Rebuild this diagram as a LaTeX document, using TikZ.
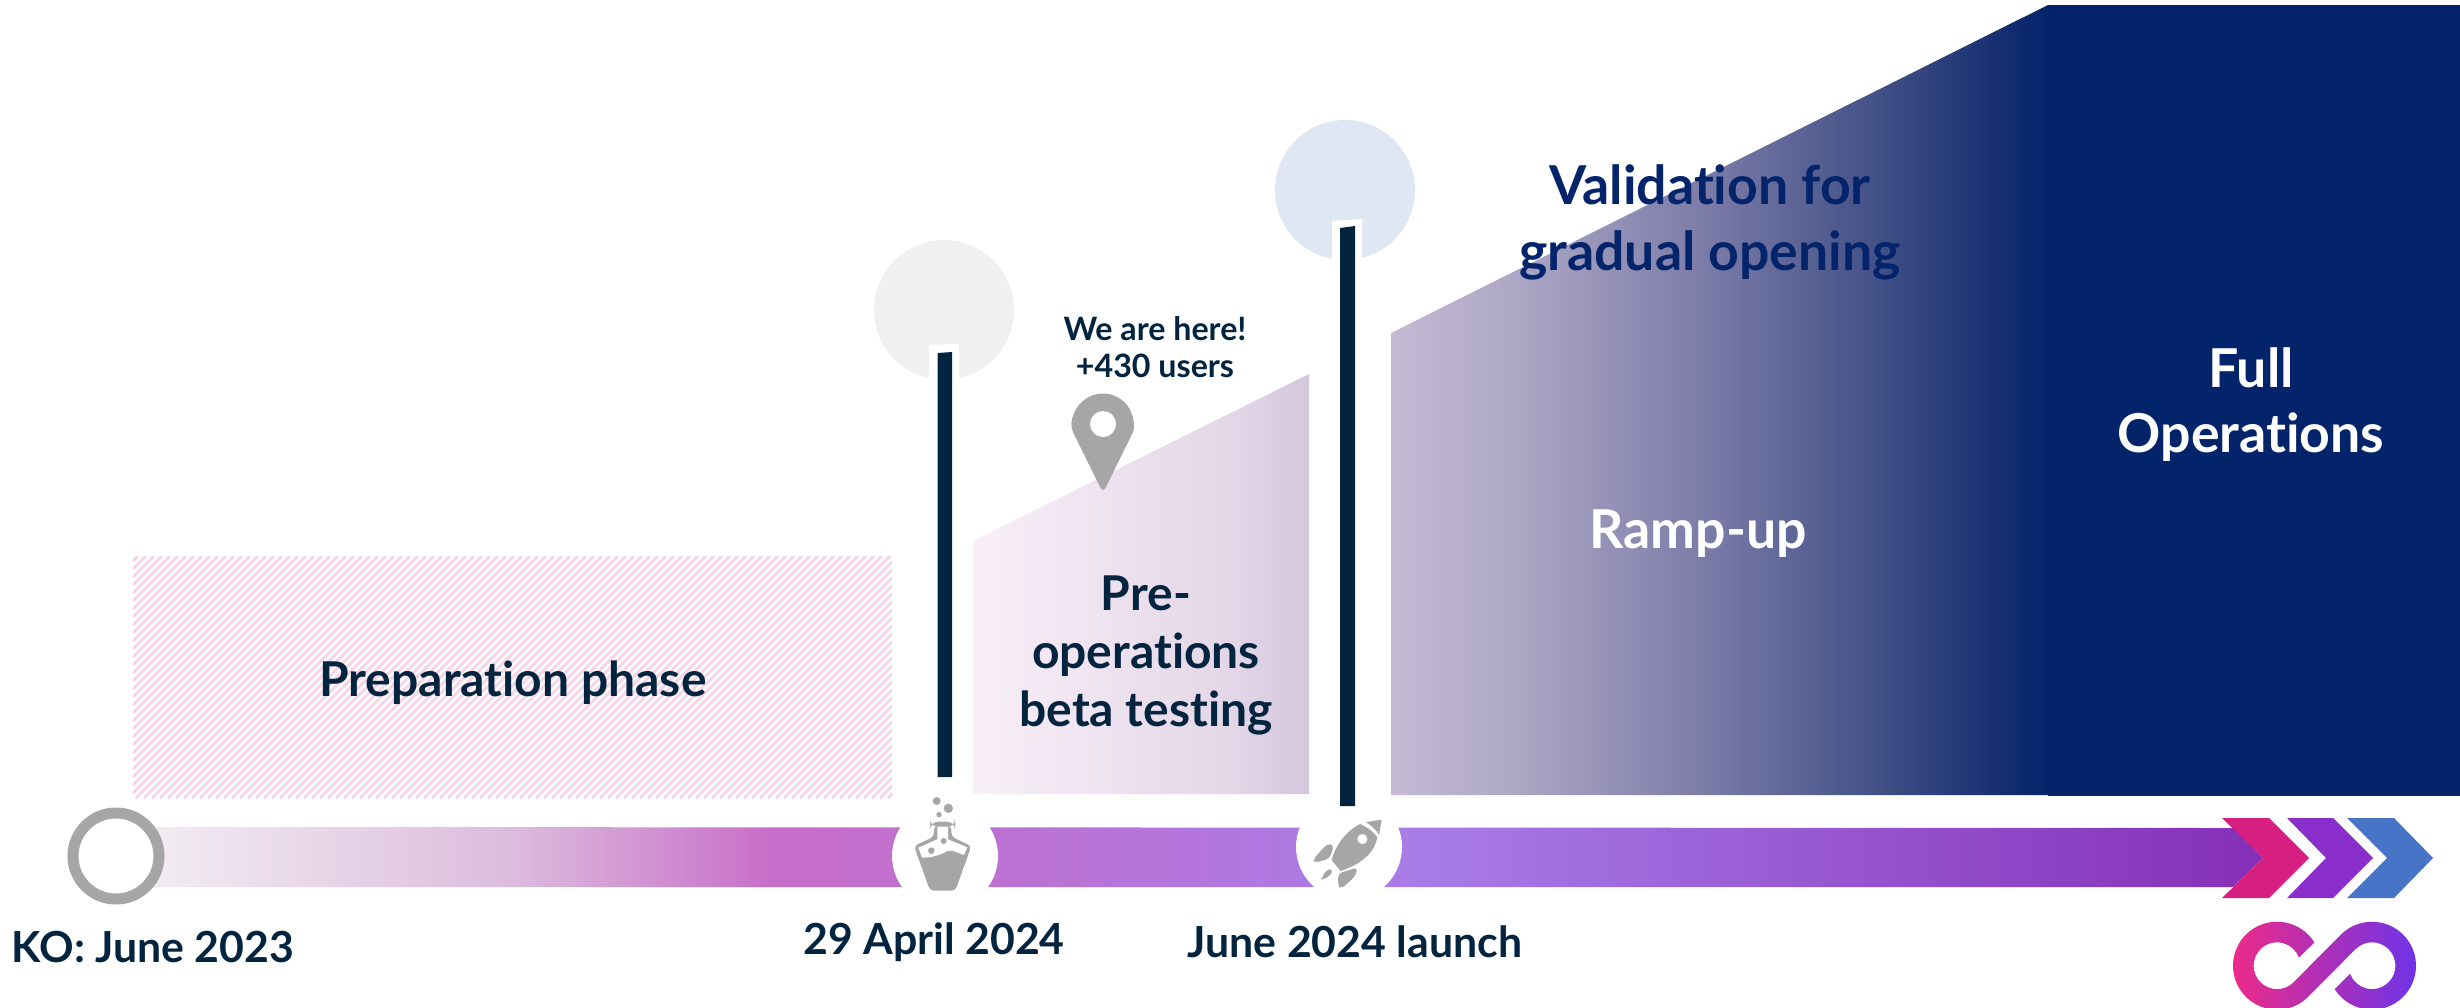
\documentclass[tikz,border=0pt]{standalone}
\usepackage{fontspec}
\setmainfont{Lato}[Ligatures=CommonOff]
\usetikzlibrary{calc}
\definecolor{inkc}{HTML}{02243F}
\definecolor{navyc}{HTML}{03236A}
\definecolor{grayc}{HTML}{A6A6A6}
\definecolor{hatchc}{HTML}{F6D5E9}
\definecolor{bara}{HTML}{F4F1F4}
\definecolor{barb}{HTML}{DCBCDD}
\definecolor{barc}{HTML}{C76CC8}
\definecolor{bard}{HTML}{A87CE8}
\definecolor{bare}{HTML}{8530B8}
\definecolor{rampa}{HTML}{C4BAD4}
\definecolor{rampb}{HTML}{ABA6C4}
\definecolor{rampc}{HTML}{7778A5}
\definecolor{rampd}{HTML}{3F4F85}
\definecolor{rampe}{HTML}{1F3575}
\definecolor{prea}{HTML}{F8EFF8}
\definecolor{preb}{HTML}{EBDFED}
\definecolor{prec}{HTML}{E4D8E8}
\definecolor{pred}{HTML}{D4C7DE}
\definecolor{logoa}{HTML}{F02A86}
\definecolor{logob}{HTML}{6A34EA}
\definecolor{ballgray}{HTML}{F0F0F0}
\definecolor{ballblue}{HTML}{E0E7F4}
\definecolor{chevpink}{HTML}{D61F80}
\definecolor{chevpurp}{HTML}{8A2FCB}
\definecolor{chevblue}{HTML}{4774C6}
\pgfdeclarehorizontalshading{bargrad}{100bp}{
 color(0bp)=(bara);
 color(25bp)=(bara);
 color(34.2bp)=(barb);
 color(40.4bp)=(barc);
 color(55.5bp)=(bard);
 color(74.8bp)=(bare);
 color(100bp)=(bare)}
\pgfdeclarehorizontalshading{rampgrad}{100bp}{
 color(0bp)=(rampa); color(25bp)=(rampa); color(35bp)=(rampb);
 color(50bp)=(rampc); color(62.5bp)=(rampd); color(69.5bp)=(rampe); color(75bp)=(navyc); color(100bp)=(navyc)}
\pgfdeclarehorizontalshading{pregrad}{100bp}{
 color(0bp)=(prea); color(25bp)=(prea); color(50bp)=(preb); color(62bp)=(prec); color(75bp)=(pred); color(100bp)=(pred)}
\pgfdeclarehorizontalshading{logograd}{100bp}{
 color(0bp)=(logoa); color(25bp)=(logoa); color(75bp)=(logob); color(100bp)=(logob)}
\tikzset{
 x=0.5pt,y=-0.5pt,
 bigtxt/.style={font=\fontsize{24}{29}\selectfont\bfseries,text=inkc,align=center,inner sep=0pt},
 lighttxt/.style={font=\fontsize{26.8}{32.5}\selectfont\bfseries,text=white,align=center,inner sep=0pt},
 navytxt/.style={font=\fontsize{26.8}{33}\selectfont\bfseries,text=navyc,align=center,inner sep=0pt},
 datetxt/.style={font=\fontsize{21.4}{25}\selectfont\bfseries,text=inkc,align=center,inner sep=0pt},
 smalltxt/.style={font=\fontsize{16.1}{18.5}\selectfont\bfseries,text=inkc,align=center,inner sep=0pt},
 icon/.style={fill=grayc,draw=none},
 stick/.style={fill=inkc,draw=none},
}
\begin{document}
\begin{tikzpicture}
\useasboundingbox (0,0) rectangle (2460,1007);
\clip (0,0) rectangle (2460,1007);
\fill[white] (0,0) rectangle (2460,1007);
% hatch
\begin{scope}
\clip (133,556) rectangle (892,798);
\foreach \i in {-112,-104,...,892}{
 \draw[hatchc,line width=1.5pt] (\i,798) -- ++(242,-242);
}
\end{scope}
% polygons
\shade[shading=pregrad] (973,541) -- (1309,374) -- (1309,794) -- (973,794) -- cycle;
\shade[shading=rampgrad] (1391,333) -- (2048,5) -- (2048,795) -- (1391,795) -- cycle;
\fill[navyc] (2048,5) rectangle (2460,796);
% lollipops
\fill[ballgray] (944,310) circle[radius=70];
\fill[white] (929,345) -- (959,344) -- (959,400) -- (929,400) -- cycle;
\fill[ballblue] (1345,190) circle[radius=70];
\fill[white] (1332,221) -- (1362,219) -- (1362,280) -- (1332,280) -- cycle;
% bar
\shade[shading=bargrad] (116,827) -- (2233,828) -- (2263,858) -- (2233,887) -- (116,887) -- cycle;
% start ring
\filldraw[fill=white,draw=grayc,line width=5.5pt] (116,856) circle[radius=43];
% chevrons
\fill[chevpink] (2222,818) -- (2269,818) -- (2309,858) -- (2269,898) -- (2222,898) -- (2263,858) -- cycle;
\fill[chevpurp] (2287,818) -- (2333,818) -- (2373,858) -- (2333,898) -- (2287,898) -- (2326,858) -- cycle;
\fill[chevblue] (2347,818) -- (2394,818) -- (2433,858) -- (2394,898) -- (2347,898) -- (2387,858) -- cycle;
% flask
\fill[white] (945,856) circle[radius=53];
\begin{scope}[shift={(860,770)},scale=1/3]
\fill[icon] (230,93) circle[radius=12];
\fill[icon] (265,115) circle[radius=14];
\fill[icon] (237,134) circle[radius=8];
\fill[icon,rounded corners=4pt] (211,155) rectangle (285,171);
\fill[icon,rounded corners=2pt] (222,168) -- (222,200) -- (162,228) -- (210,362) -- (286,362) -- (334,228) -- (274,200) -- (274,168) -- cycle;
\fill[white] (232,170) -- (232,208) -- (175,233) -- (186,263) .. controls (215,262) and (235,258) .. (262,243) .. controls (280,238) and (295,250) .. (312,255) -- (322,232) -- (264,208) -- (264,170) -- cycle;
\fill[icon] (214,242) circle[radius=10];
\fill[icon] (251,213) circle[radius=9];
\end{scope}
% rocket
\fill[white] (1349,847) circle[radius=53];
\begin{scope}[shift={(1280,790)},scale=1/3]
\fill[icon] (258,97) .. controls (280,92) and (295,90) .. (305,90) -- (297,135) .. controls (290,120) and (275,107) .. (258,97) -- cycle;
\fill[icon] (240,102) .. controls (265,113) and (283,128) .. (292,142) .. controls (282,195) and (235,225) .. (182,243) -- (155,210) .. controls (165,170) and (195,125) .. (240,102) -- cycle;
\fill[white] (247,147) circle[radius=15];
\fill[icon,rounded corners=2pt] (99,208) -- (143,160) -- (162,166) -- (149,205) -- (105,219) -- cycle;
\fill[icon,rounded corners=2pt] (175,250) -- (233,232) -- (226,258) -- (185,296) -- (174,288) -- cycle;
\fill[icon,rounded corners=2pt] (122,264) -- (147,233) -- (161,246) -- (130,271) -- cycle;
\end{scope}
% sticks
\fill[stick] (937.5,353) -- (952,352) -- (952,777) -- (937.5,777) -- cycle;
\fill[stick] (1340,228) -- (1355,226) -- (1355,806) -- (1340,806) -- cycle;
% pin
\fill[icon,rounded corners=3pt] (1103,424) ++(154:30.5) arc[start angle=154,end angle=386,radius=30.5] -- (1103,493) -- cycle;
\fill[white] (1103,424) circle[radius=13];
% logo
\coordinate (logoL) at (2277,965.7);
\coordinate (logoR) at (2372,965.7);
\shade[shading=logograd]
 ($(logoL)+(-32:44)$) arc[start angle=-32,end angle=-315,radius=44]
 -- ($(logoR)+(225:23.4)$) arc[start angle=225,end angle=520,radius=23.4]
 -- ($(logoR)+(508:44)$) arc[start angle=508,end angle=225,radius=44]
 -- ($(logoL)+(45:23.4)$) arc[start angle=45,end angle=340,radius=23.4]
 -- cycle;
% text
\node[bigtxt] (prep) at (513,683) {Preparation phase};
\node[bigtxt] (pre) at (1146,655) {Pre-\\operations\\beta testing};
\node[navytxt] (valid) at (1710,222) {Validation for\\gradual opening};
\node[lighttxt] (ramp) at (1698,534) {Ramp-up};
\node[lighttxt] (full) at (2251,405) {Full\\Operations};
\node[smalltxt] (here) at (1155,347) {We are here!\\+430 users};
\node[datetxt] (ko) at (153,947) {KO: June 2023};
\node[datetxt] (apr) at (934,942) {29 April 2024};
\node[datetxt] (jun) at (1355,942) {June 2024 launch};
\end{tikzpicture}
\end{document}
